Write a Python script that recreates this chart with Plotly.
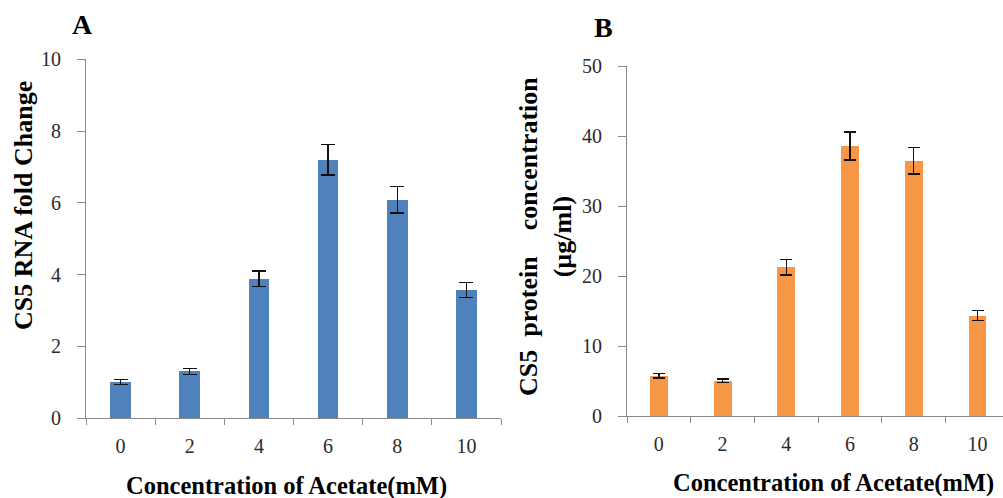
import plotly.graph_objects as go

categories = ["0", "2", "4", "6", "8", "10"]
rna_fold = [1.0, 1.3, 3.88, 7.2, 6.08, 3.57]
rna_err = [0.07, 0.08, 0.22, 0.43, 0.37, 0.21]
protein = [5.8, 5.1, 21.3, 38.6, 36.5, 14.4]
protein_err = [0.3, 0.25, 1.1, 2.0, 1.9, 0.75]

W, H = 1003, 498
FONT = "Liberation Serif, Times New Roman, serif"
AXC = "#8a8a8a"
TXT = "#2b2b2b"

def px(x):
    return x / W

def py(y):
    return (H - y) / H

fig = go.Figure()
fig.add_trace(go.Bar(
    x=categories, y=rna_fold, width=0.3, marker=dict(color="#4F81BD", line=dict(width=0)),
    error_y=dict(type="data", array=rna_err, color="#111111", thickness=1.4, width=7),
    xaxis="x", yaxis="y", showlegend=False))
fig.add_trace(go.Bar(
    x=categories, y=protein, width=0.28, marker=dict(color="#F79646", line=dict(width=0)),
    error_y=dict(type="data", array=protein_err, color="#111111", thickness=1.4, width=6),
    xaxis="x2", yaxis="y2", showlegend=False))

xcommon = dict(type="category", showline=True, linecolor=AXC, linewidth=1, ticks="outside",
               tickson="boundaries", ticklen=6, tickcolor=AXC, showgrid=False, zeroline=False,
               automargin=False,
               tickfont=dict(family=FONT, size=20, color=TXT), ticklabelstandoff=10)
ycommon = dict(showline=True, linecolor=AXC, linewidth=1, ticks="outside", ticklen=8,
               tickcolor=AXC, showgrid=False, zeroline=False, automargin=False,
               tickfont=dict(family=FONT, size=20, color=TXT))

fig.update_layout(
    width=W, height=H, autosize=False,
    margin=dict(l=0, r=0, t=0, b=0, pad=0, autoexpand=False),
    paper_bgcolor="white", plot_bgcolor="white",
    font=dict(family=FONT, color="black"),
    bargap=0,
    xaxis=dict(domain=[px(86), px(501)], range=[-0.5, 5.5], anchor="y", **xcommon),
    yaxis=dict(domain=[py(418), py(59.3)], range=[0, 10], dtick=2, anchor="x",
               ticklabelstandoff=12, **ycommon),
    xaxis2=dict(domain=[px(627), 1.0], range=[-0.5, 5.4], anchor="y2", **xcommon),
    yaxis2=dict(domain=[py(416.3), py(66.3)], range=[0, 50], dtick=10, anchor="x2",
                ticklabelstandoff=12, **ycommon),
)

ann = [
    dict(text="<b>A</b>", x=px(82), y=py(25), size=28, angle=0),
    dict(text="<b>B</b>", x=px(603), y=py(27), size=28, angle=0),
    dict(text="<b>CS5 RNA fold Change</b>", x=px(23), y=py(206), size=26, angle=-90),
    dict(text="<b>CS5\u00a0\u00a0protein\u00a0\u00a0\u00a0 concentration<br>(µg/ml)</b>",
         x=px(545.5), y=py(236.5), size=26, angle=-90),
    dict(text="<b>Concentration of Acetate(mM)</b>", x=px(286), y=py(486), size=24.5, angle=0),
    dict(text="<b>Concentration of Acetate(mM)</b>", x=px(833), y=py(483), size=24.5, angle=0),
]
for a in ann:
    fig.add_annotation(text=a["text"], x=a["x"], y=a["y"], xref="paper", yref="paper",
                       xanchor="center", yanchor="middle", showarrow=False,
                       textangle=a["angle"], font=dict(family=FONT, size=a["size"], color="black"))

fig.write_html(
    "out.html",
    config={"displayModeBar": False, "staticPlot": True},
    post_script="document.body.style.margin='0';document.body.style.padding='0';"
                "document.body.style.overflow='hidden';",
)
